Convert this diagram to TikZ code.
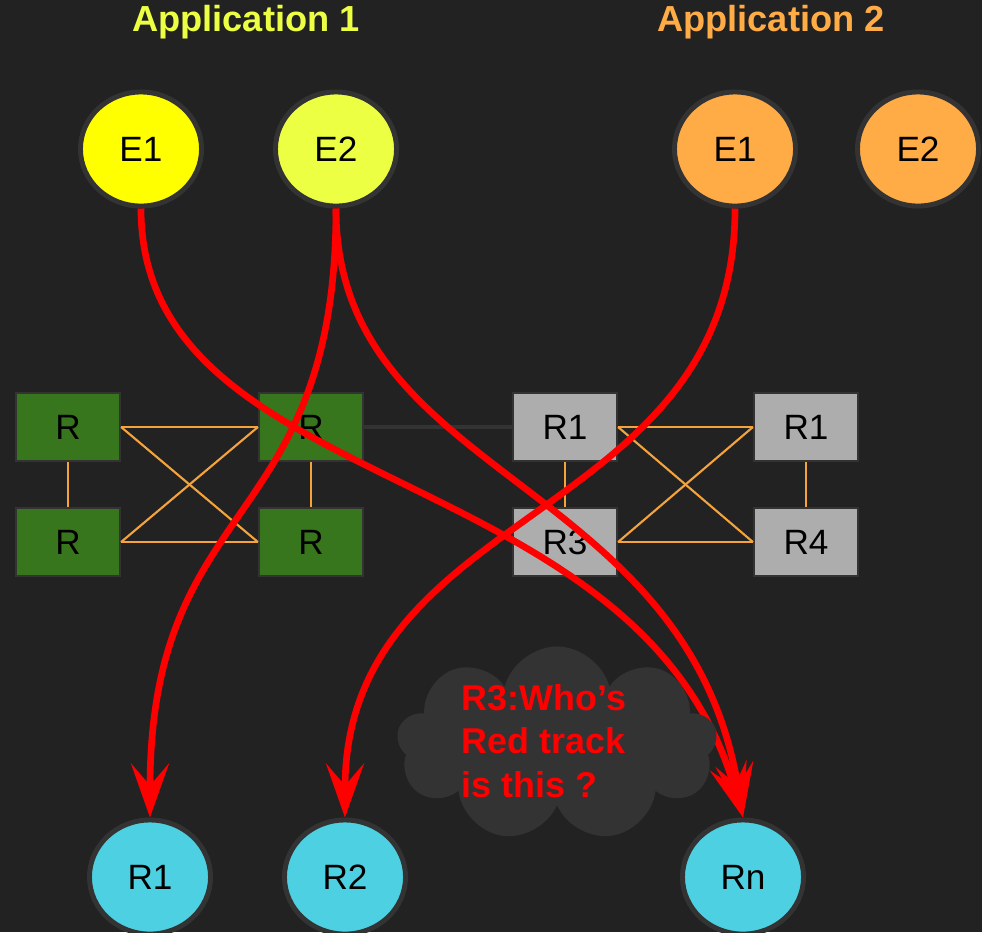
\documentclass[tikz,border=0pt]{standalone}
\usepackage{fontspec}
\setmainfont{Liberation Sans}
\usepackage{tikz}
\usetikzlibrary{shapes.geometric,shapes.symbols,arrows.meta}

\definecolor{bg}{HTML}{222222}
\definecolor{ring}{HTML}{333333}
\definecolor{appone}{HTML}{FFFF00}
\definecolor{apptwo}{HTML}{ECFF42}
\definecolor{appthree}{HTML}{FFAB46}
\definecolor{routergreen}{HTML}{38761D}
\definecolor{routergrey}{HTML}{ADADAD}
\definecolor{linkorange}{HTML}{F5A33C}
\definecolor{receiver}{HTML}{4DD0E1}
\definecolor{cloudgrey}{HTML}{333333}

\begin{document}
\begin{tikzpicture}[x=0.01cm, y=-0.01cm,
  endpoint/.style={ellipse, draw=ring, line width=1.4pt, minimum width=1.21cm, minimum height=1.14cm, inner sep=0pt, font=\fontsize{10}{12}\selectfont},
  router/.style={rectangle, draw=ring, line width=0.6pt, minimum width=1.04cm, minimum height=0.68cm, font=\fontsize{10}{12}\selectfont},
  link/.style={draw=linkorange, line width=0.6pt},
  track/.style={-{Stealth[length=0.54cm, width=0.38cm, inset=0.22cm]}, red, line width=1.9pt},
  title/.style={font=\fontsize{10.3}{12}\bfseries}]

\fill[bg] (0,0) rectangle (982,932);
\clip (0,0) rectangle (982,932);

\node[title, text=apptwo] (app1) at (246,22) {Application 1};
\node[title, text=appthree] (app2) at (771,22) {Application 2};

\node[endpoint, fill=appone] (a1e1) at (141,149) {E1};
\node[endpoint, fill=apptwo] (a1e2) at (336,149) {E2};
\node[endpoint, fill=appthree] (a2e1) at (735,149) {E1};
\node[endpoint, fill=appthree] (a2e2) at (918,149) {E2};

\node[router, fill=routergreen] (g1) at (68,427) {R};
\node[router, fill=routergreen] (g2) at (311,427) {R};
\node[router, fill=routergreen] (g3) at (68,542) {R};
\node[router, fill=routergreen] (g4) at (311,542) {R};

\node[router, fill=routergrey] (h1) at (565,427) {R1};
\node[router, fill=routergrey] (h2) at (806,427) {R1};
\node[router, fill=routergrey] (h3) at (565,542) {R3};
\node[router, fill=routergrey] (h4) at (806,542) {R4};

\draw[link] (g1.east) -- (g2.west);
\draw[link] (g3.east) -- (g4.west);
\draw[link] (g1.east) -- (g4.west);
\draw[link] (g3.east) -- (g2.west);
\draw[link] (g1) -- (g3);
\draw[link] (g2) -- (g4);

\draw[link] (h1.east) -- (h2.west);
\draw[link] (h3.east) -- (h4.west);
\draw[link] (h1.east) -- (h4.west);
\draw[link] (h3.east) -- (h2.west);
\draw[link] (h1) -- (h3);
\draw[link] (h2) -- (h4);

\draw[ring, line width=1.1pt] (g2) -- (h1);

\node[endpoint, fill=receiver] (r1) at (150,877) {R1};
\node[endpoint, fill=receiver] (r2) at (345,877) {R2};
\node[endpoint, fill=receiver] (rn) at (743,877) {Rn};

\draw[track] (a1e1.south) .. controls +(0,292) and +(-103,-362) .. (rn.north);
\draw[track] (a1e2.south) .. controls +(0,272) and +(-55,-342) .. (rn.north);
\draw[track] (a1e2.south) .. controls +(0,325) and +(0,-325) .. (r1.north);
\draw[track] (a2e1.south) .. controls +(0,315) and +(0,-315) .. (r2.north);

\node[cloud, cloud puffs=9, fill=cloudgrey, minimum width=3.2cm, minimum height=1.95cm] (cloud) at (557,744) {};
\node[align=left, text=red, font=\fontsize{10.2}{12.4}\bfseries] (note) at (544,741) {R3:Who’s\\Red track\\is this ?};

\end{tikzpicture}
\end{document}
